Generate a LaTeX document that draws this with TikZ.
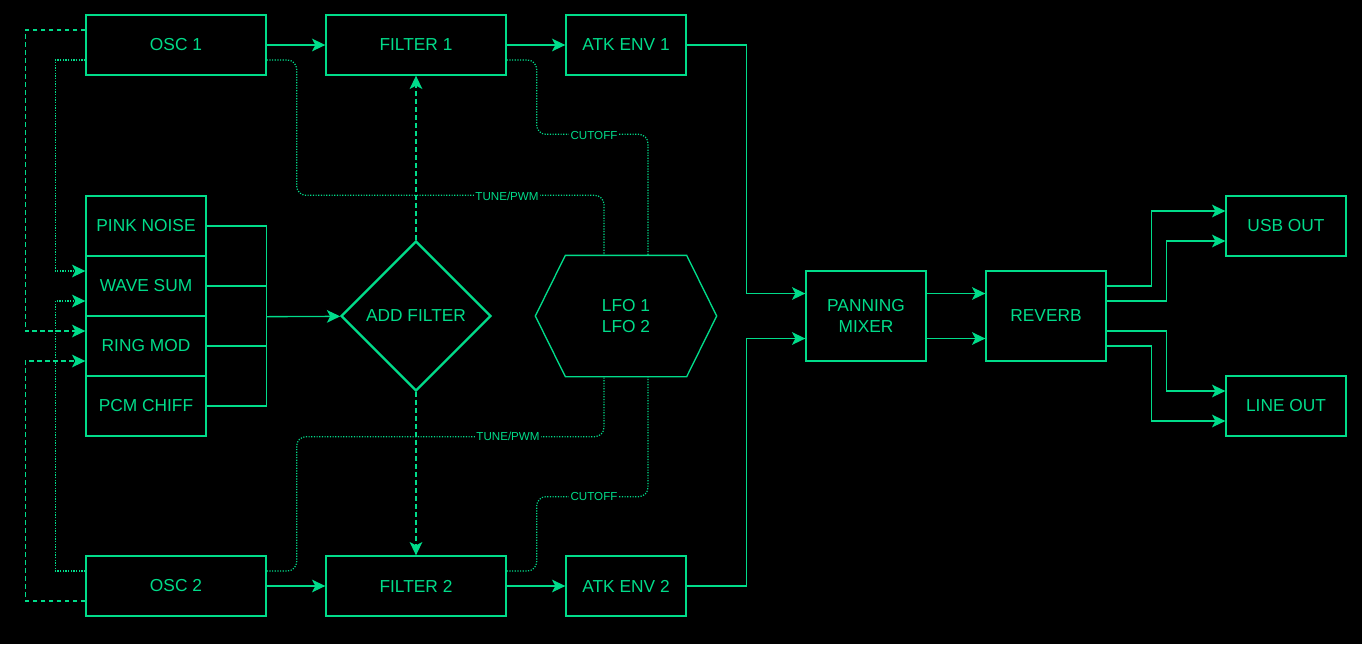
\documentclass[tikz,border=0pt]{standalone}
\usepackage{fontspec}
\setmainfont{Liberation Sans}
\usetikzlibrary{arrows.meta,shapes.geometric,calc}
\definecolor{synthgreen}{HTML}{00DC8A}
\tikzset{
    box/.style={draw=synthgreen,line width=1pt,text=synthgreen,minimum height=45pt,inner sep=0pt,align=center,font=\fontsize{13}{15.5}\selectfont},
    link/.style={draw=synthgreen,line width=1pt},
    wire/.style={link,-{Stealth[length=10pt,width=9.5pt,inset=2.5pt]}},
    dashwire/.style={wire,dash pattern=on 3.5pt off 2.5pt},
    dotwire/.style={wire,line width=0.9pt,dash pattern=on 0.9pt off 1.1pt},
    ctl/.style={link,line width=0.9pt,dash pattern=on 0.9pt off 1.1pt,rounded corners=7pt},
    tag/.style={fill=black,text=synthgreen,inner sep=1pt,font=\fontsize{8.7}{10}\selectfont}
}
\begin{document}
\begin{tikzpicture}[x=0.75pt,y=-0.75pt]
        \fill[black] (0,0) rectangle (1362,644);
        \useasboundingbox (0,0) rectangle (1362,644);
        \node[box,minimum width=135pt] (osc1) at (176,45) {OSC 1};
        \node[box,minimum width=135pt] (flt1) at (416,45) {FILTER 1};
        \node[box,minimum width=90pt] (env1) at (626,45) {ATK ENV 1};
        \node[box,minimum width=135pt] (osc2) at (176,586) {OSC 2};
        \node[box,minimum width=135pt] (flt2) at (416,586) {FILTER 2};
        \node[box,minimum width=90pt] (env2) at (626,586) {ATK ENV 2};
        \foreach \name/\txt [count=\i] in {pink/PINK NOISE,wave/WAVE SUM,ring/RING MOD,pcm/PCM CHIFF}
            \node[box,minimum width=90pt] (\name) at (146,166+60*\i) {\txt};
        \node[box,diamond,aspect=1,line width=1.7pt,minimum width=112.5pt,minimum height=112.5pt] (add) at (416,316) {ADD FILTER};
        \node[box,draw=none,minimum width=90pt,minimum height=90pt] (lfo) at (626,316) {LFO 1\\LFO 2};
        \draw[link] (lfo.north west) -- (lfo.north east) -- ($(lfo.east)+(30,0)$) -- (lfo.south east)
            -- (lfo.south west) -- ($(lfo.west)+(-30,0)$) -- cycle;
        \node[box,minimum width=90pt,minimum height=67.5pt] (mix) at (866,316) {PANNING\\MIXER};
        \node[box,minimum width=90pt,minimum height=67.5pt] (rev) at (1046,316) {REVERB};
        \node[box,minimum width=90pt] (usbout) at (1286,226) {USB OUT};
        \node[box,minimum width=90pt] (lineout) at (1286,406) {LINE OUT};

        \draw[wire] (osc1) -- (flt1);
        \draw[wire] (flt1) -- (env1);
        \draw[wire] (osc2) -- (flt2);
        \draw[wire] (flt2) -- (env2);
        \foreach \name in {pink,wave,ring,pcm}
            \draw[link] (\name.east) -- ++(60,0);
        \draw[link] ($(pink.east)+(60,0)$) -- ($(pcm.east)+(60,0)$);
        \coordinate (bus) at ($(wave.south east)+(60,0)$);
        \draw[wire] (bus) -- (add);
        \draw[dashwire] (add.north) -- (flt1.south);
        \draw[dashwire] (add.south) -- (flt2.north);

        \draw[dashwire] ($(osc1.west)+(0,-15)$) -- ++(-60,0) |- ($(ring.west)+(0,-15)$);
        \draw[dashwire] ($(osc2.west)+(0,15)$) -- ++(-60,0) |- ($(ring.west)+(0,15)$);
        \draw[dotwire] ($(osc1.west)+(0,15)$) -- ++(-30,0) |- ($(wave.west)+(0,-15)$);
        \draw[dotwire] ($(osc2.west)+(0,-15)$) -- ++(-30,0) |- ($(wave.west)+(0,15)$);

        \draw[ctl] ($(osc1.east)+(0,15)$) -- ++(30,0) |- ($(lfo.north)+(-22,-60)$) -- ($(lfo.north)+(-22,0)$);
        \draw[ctl] ($(flt1.east)+(0,15)$) -- ++(30,0) |- ($(lfo.north)+(22,-121)$) -- ($(lfo.north)+(22,0)$);
        \draw[ctl] ($(osc2.east)+(0,-15)$) -- ++(30,0) |- ($(lfo.south)+(-22,60)$) -- ($(lfo.south)+(-22,0)$);
        \draw[ctl] ($(flt2.east)+(0,-15)$) -- ++(30,0) |- ($(lfo.south)+(22,120)$) -- ($(lfo.south)+(22,0)$);
        \node[tag] (tune1) at (507,196) {TUNE/PWM};
        \node[tag] (cut1) at (594,135) {CUTOFF};
        \node[tag] (tune2) at (508,436) {TUNE/PWM};
        \node[tag] (cut2) at (594,496) {CUTOFF};

        \draw[wire] (env1.east) -- ++(60,0) |- ($(mix.west)+(0,-22.5)$);
        \draw[wire] (env2.east) -- ++(60,0) |- ($(mix.west)+(0,22.5)$);
        \foreach \dy in {-22.5,22.5}
            \draw[wire] ($(mix.east)+(0,\dy)$) -- ($(rev.west)+(0,\dy)$);
        \draw[wire] ($(rev.east)+(0,-30)$) -- ++(45,0) |- ($(usbout.west)+(0,-15)$);
        \draw[wire] ($(rev.east)+(0,-15)$) -- ++(60,0) |- ($(usbout.west)+(0,15)$);
        \draw[wire] ($(rev.east)+(0,15)$) -- ++(60,0) |- ($(lineout.west)+(0,-15)$);
        \draw[wire] ($(rev.east)+(0,30)$) -- ++(45,0) |- ($(lineout.west)+(0,15)$);
    \end{tikzpicture}
\end{document}
